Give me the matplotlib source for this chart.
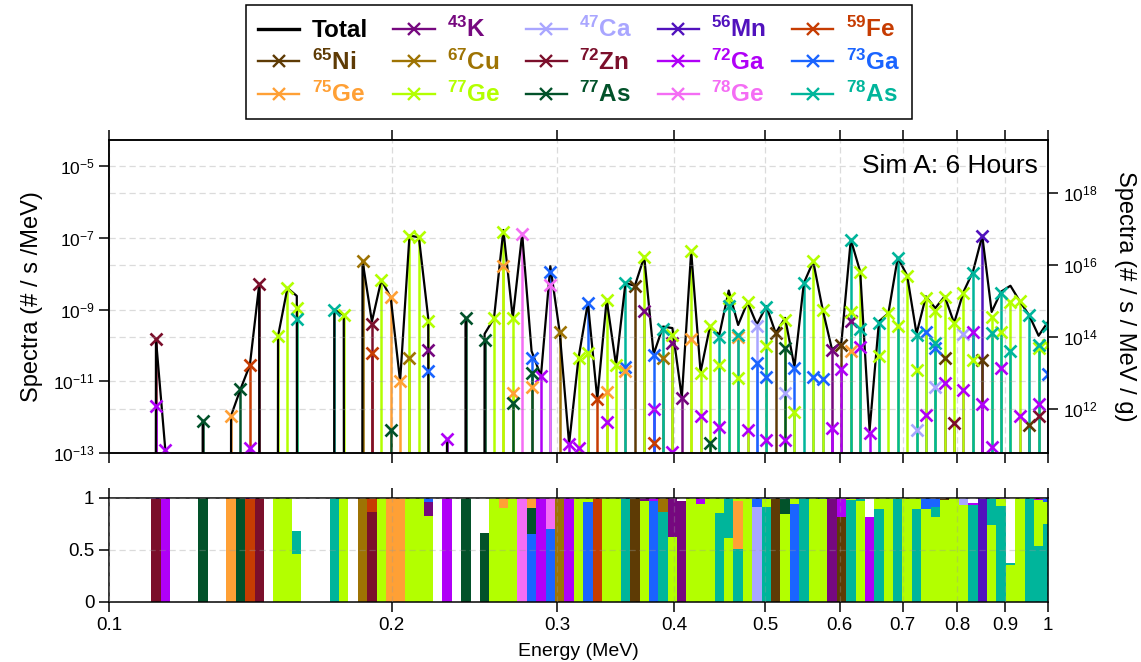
import numpy as np
import matplotlib
matplotlib.use("Agg")
import matplotlib.pyplot as plt
from matplotlib.lines import Line2D
from matplotlib.ticker import FixedLocator, FixedFormatter, NullLocator, LogFormatterSciNotation

plt.rcParams['font.family'] = 'Liberation Sans'
plt.rcParams['mathtext.fontset'] = 'custom'
plt.rcParams['mathtext.rm'] = 'Liberation Sans'
plt.rcParams['mathtext.it'] = 'Liberation Sans:italic'
plt.rcParams['mathtext.bf'] = 'Liberation Sans:bold'
plt.rcParams['axes.linewidth'] = 1.1

# ---------------- data ----------------
# spectrum histogram: 101 log-spaced bin centres from 0.1 to 1 MeV (bin index k)
n_bins = 101
energy = np.logspace(-1, 0, n_bins)

bins_43K = [34, 57, 60, 61, 77, 79]
vals_43K = [7.6e-11, 8.9e-10, 1.15e-10, 3.4e-12, 7.6e-11, 4.7e-10]

bins_47Ca = [69, 72, 86, 88, 91]
vals_47Ca = [3.5e-10, 4.7e-12, 4.4e-13, 6.8e-12, 2.1e-10]

bins_56Mn = [93]
vals_56Mn = [1.15e-7]

bins_59Fe = [15, 28, 52, 58]
vals_59Fe = [2.8e-11, 6.3e-11, 3.2e-12, 1.9e-13]

bins_65Ni = [56, 71, 78, 89, 93, 98]
vals_65Ni = [4.6e-9, 2.2e-10, 1.0e-10, 4.4e-11, 4.0e-11, 6.0e-13]

bins_67Cu = [27, 32, 48, 59]
vals_67Cu = [2.3e-8, 4.6e-11, 2.3e-10, 4.6e-11]

bins_72Zn = [5, 16, 28, 90, 99]
vals_72Zn = [1.5e-10, 5.1e-9, 4.0e-10, 6.8e-13, 1.1e-12]

bins_72Ga = [5, 6, 15, 36, 46, 49, 50, 53, 58, 60, 63, 65, 68, 70, 72, 77, 78,
             80, 81, 87, 89, 91, 92, 93, 94, 95, 97, 99]
vals_72Ga = [2.0e-12, 1.2e-13, 1.4e-13, 2.4e-13, 1.4e-11, 1.8e-13, 1.35e-13, 7.5e-13,
             1.7e-12, 1.1e-13, 1.07e-12, 5.2e-13, 4.4e-13, 2.3e-13, 2.3e-13, 5.1e-13,
             2.2e-11, 8.9e-11, 3.5e-13, 1.15e-12, 8.9e-12, 5.7e-12, 2.4e-10, 2.3e-12,
             1.5e-13, 2.4e-11, 1.07e-12, 2.4e-12]

bins_73Ga = [34, 45, 47, 51, 55, 58, 69, 70, 73, 75, 76, 87, 88, 100]
vals_73Ga = [2.0e-11, 4.6e-11, 1.15e-8, 1.5e-9, 2.5e-11, 5.5e-11, 3.2e-11, 1.3e-11,
             2.4e-11, 1.35e-11, 1.15e-11, 2.4e-10, 8.3e-11, 1.6e-11]

bins_75Ge = [13, 30, 31, 42, 43, 45, 53, 55, 62, 67, 79]
vals_75Ge = [1.1e-12, 2.2e-9, 1.0e-11, 1.6e-8, 4.7e-12, 7.0e-12, 4.9e-12, 2.0e-11,
             1.5e-10, 1.7e-10, 7.2e-11]

bins_77Ge = [18, 19, 20, 25, 29, 32, 33, 34, 41, 42, 43, 50, 51, 53, 54, 57, 60, 62,
             63, 64, 65, 66, 67, 68, 70, 72, 73, 75, 76, 79, 80, 82, 83, 84, 85, 86,
             87, 88, 89, 90, 91, 92, 94, 95, 96, 97, 99, 100]
vals_77Ge = [1.8e-10, 4.0e-9, 1.1e-9, 7.0e-10, 6.7e-9, 1.15e-7, 1.05e-7, 4.7e-10,
             5.7e-10, 1.5e-7, 5.7e-10, 4.4e-11, 6.0e-11, 1.9e-9, 2.8e-11, 2.9e-8,
             1.9e-10, 4.2e-8, 1.7e-11, 3.4e-10, 2.8e-11, 2.1e-9, 1.2e-11, 1.6e-9,
             9.8e-11, 5.0e-10, 1.4e-12, 2.2e-8, 1.0e-9, 8.3e-10, 1.1e-8, 5.1e-11,
             7.9e-10, 3.4e-10, 8.9e-9, 2.1e-11, 2.1e-9, 8.9e-10, 2.3e-9, 4.2e-10,
             2.9e-9, 4.0e-11, 6.4e-10, 2.3e-10, 1.65e-9, 1.7e-9, 8.3e-11, 1.0e-10]

bins_77As = [10, 14, 30, 38, 40, 43, 45, 64, 72]
vals_77As = [8.0e-13, 6.0e-12, 4.4e-13, 5.7e-10, 1.4e-10, 2.5e-12, 1.7e-11, 1.9e-13, 8.3e-11]

bins_78Ge = [44, 47]
vals_78Ge = [1.3e-7, 4.9e-9]

bins_78As = [20, 24, 55, 59, 65, 66, 67, 70, 74, 79, 80, 82, 84, 86, 88, 92, 94, 95,
             96, 98, 99, 100]
vals_78As = [5.4e-10, 1.0e-9, 5.5e-9, 2.9e-10, 1.7e-10, 1.3e-9, 1.9e-10, 1.15e-9,
             5.5e-9, 8.9e-8, 2.9e-10, 4.2e-10, 2.8e-8, 1.9e-10, 1.15e-10, 1.05e-8,
             2.2e-10, 2.9e-9, 7.0e-11, 6.9e-10, 1.0e-10, 3.4e-10]

# contributions of isotopes not listed in the legend (white gaps in the lower panel)
bins_other = [20, 40, 61, 81, 92, 96]
vals_other = [7.6e-10, 7.0e-11, 1.0e-13, 8.0e-14, 5.0e-10, 2.9e-9]

isotopes = [
    ("43", "K", "#76087f", bins_43K, vals_43K),
    ("47", "Ca", "#a9a6ff", bins_47Ca, vals_47Ca),
    ("56", "Mn", "#5112bd", bins_56Mn, vals_56Mn),
    ("59", "Fe", "#c63c02", bins_59Fe, vals_59Fe),
    ("65", "Ni", "#5e3b05", bins_65Ni, vals_65Ni),
    ("67", "Cu", "#9e7303", bins_67Cu, vals_67Cu),
    ("72", "Zn", "#7b0f2b", bins_72Zn, vals_72Zn),
    ("72", "Ga", "#b000f7", bins_72Ga, vals_72Ga),
    ("73", "Ga", "#1a64ff", bins_73Ga, vals_73Ga),
    ("75", "Ge", "#ffa035", bins_75Ge, vals_75Ge),
    ("77", "Ge", "#b3ff00", bins_77Ge, vals_77Ge),
    ("77", "As", "#02522a", bins_77As, vals_77As),
    ("78", "Ge", "#f46df4", bins_78Ge, vals_78Ge),
    ("78", "As", "#00b59b", bins_78As, vals_78As),
]

sim_label = "Sim A: 6 Hours"
mass_factor = 10 ** 23.76     # per-gram conversion for the right axis

# ---------------- derived ----------------
vals_matrix = np.zeros((len(isotopes), n_bins))
for i, (_, _, _, b, v) in enumerate(isotopes):
    vals_matrix[i, b] += v
total = vals_matrix.sum(axis=0)
total[bins_other] += vals_other

# ---------------- figure ----------------
W, H = 1141, 662
fig = plt.figure(figsize=(W / 100, H / 100), dpi=100)
ax = fig.add_axes([109 / W, 1 - 453 / H, 939 / W, 313 / H])
ax2 = fig.add_axes([109 / W, 1 - 602 / H, 939 / W, 104 / H])

ylo, yhi = 1e-13, 10 ** -4.27
grid_kw = dict(color="#9a9a9a", alpha=0.35, ls=(0, (5, 3)), lw=0.9)

ax.set_xscale("log")
ax.set_yscale("log")
ax.set_xlim(0.1, 1.0)
ax.set_ylim(ylo, yhi)

for (_, _, c, b, v) in isotopes:
    ax.vlines(energy[b], 1e-15, v, colors=c, lw=1.8, zorder=2)
for (_, _, c, b, v) in isotopes:
    ax.plot(energy[b], v, ls="none", marker="x", ms=9, mew=1.9, color=c, zorder=4)

tot_plot = np.where(total > 0, total, 1e-300)
ax.plot(energy, tot_plot, color="black", lw=1.6, zorder=3)

xt = [0.1, 0.2, 0.3, 0.4, 0.5, 0.6, 0.7, 0.8, 0.9, 1.0]
xtl = ["0.1", "0.2", "0.3", "0.4", "0.5", "0.6", "0.7", "0.8", "0.9", "1"]
for a in (ax, ax2):
    a.xaxis.set_major_locator(FixedLocator(xt))
    a.xaxis.set_minor_locator(NullLocator())
    a.tick_params(axis="x", which="major", top=True, bottom=True, direction="out",
                  length=7, width=1.1)
    a.grid(True, axis="x", **grid_kw)
ax.tick_params(axis="x", labelbottom=False)
ax2.xaxis.set_major_formatter(FixedFormatter(xtl))
ax2.tick_params(axis="x", labelsize=13.5, pad=4)

ax.yaxis.set_major_locator(FixedLocator([1e-13, 1e-11, 1e-9, 1e-7, 1e-5]))
ax.yaxis.set_minor_locator(NullLocator())
ax.yaxis.set_major_formatter(LogFormatterSciNotation())
ax.tick_params(axis="y", direction="out", length=7, width=1.1, labelsize=12.5)
ax.grid(True, axis="y", **grid_kw)
ax.set_axisbelow(False)
ax.set_ylabel("Spectra (# / s /MeV)", fontsize=17, labelpad=7)
ax.text(0.989, 0.955, sim_label, transform=ax.transAxes, ha="right", va="top",
        fontsize=19, zorder=6)

axr = ax.twinx()
axr.set_yscale("log")
axr.set_ylim(ylo * mass_factor, yhi * mass_factor)
axr.yaxis.set_major_locator(FixedLocator([1e12, 1e14, 1e16, 1e18]))
axr.yaxis.set_minor_locator(NullLocator())
axr.yaxis.set_major_formatter(LogFormatterSciNotation())
axr.tick_params(axis="y", direction="out", length=7, width=1.1, labelsize=12.5)
axr.grid(True, axis="y", **grid_kw)
axr.set_ylabel("Spectra (# / s / MeV / g)", fontsize=17, rotation=270, labelpad=28)

# ---------------- lower panel: fractional contribution ----------------
step = np.log10(energy[1] / energy[0])
left_edges = energy * 10 ** (-step / 2)
widths = energy * 10 ** (step / 2) - left_edges
bottoms = np.zeros_like(vals_matrix)
fracs = np.zeros_like(vals_matrix)
for k in range(n_bins):
    if total[k] <= 0:
        continue
    order = np.argsort(-vals_matrix[:, k])
    cum = 0.0
    for i in order:
        f = vals_matrix[i, k] / total[k]
        fracs[i, k] = f
        bottoms[i, k] = cum
        cum += f
for i, (_, _, c, b, v) in enumerate(isotopes):
    m = fracs[i] > 0
    ax2.bar(left_edges[m], fracs[i][m], width=widths[m], bottom=bottoms[i][m],
            align="edge", color=c, lw=0, zorder=1)
ax2.set_xscale("log")
ax2.set_xlim(0.1, 1.0)
ax2.xaxis.set_major_locator(FixedLocator(xt))
ax2.xaxis.set_minor_locator(NullLocator())
ax2.xaxis.set_major_formatter(FixedFormatter(xtl))
ax2.set_ylim(0, 1)
ax2.set_yticks([0, 0.5, 1])
ax2.set_yticklabels(["0", "0.5", "1"])
ax2.tick_params(axis="y", direction="out", length=7, width=1.1, labelsize=13.5)
ax2.grid(True, axis="y", **grid_kw)
ax2.set_axisbelow(False)
ax2.set_xlabel("Energy (MeV)", fontsize=14, labelpad=6)

# ---------------- legend (filled row by row) ----------------
handles = [Line2D([], [], color="black", lw=2.4)]
labels = ["Total"]
colors = ["black"]
for (mass, el, c, b, v) in isotopes:
    handles.append(Line2D([], [], color=c, lw=1.7, marker="x", ms=9, mew=1.7))
    labels.append(r"$^{\mathbf{%s}}$%s" % (mass, el))
    colors.append(c)
ncol, nrow = 5, 3
order = [r * ncol + c for c in range(ncol) for r in range(nrow)]
handles = [handles[i] for i in order]
labels = [labels[i] for i in order]
colors = [colors[i] for i in order]
leg = fig.legend(handles, labels, ncol=ncol, loc="upper center",
                 bbox_to_anchor=(579 / W, 1 - 5 / H), borderaxespad=0,
                 frameon=True, fancybox=False,
                 edgecolor="black", framealpha=1, borderpad=0.5, labelspacing=0.3,
                 handlelength=1.7, handletextpad=0.5, columnspacing=1.05,
                 prop={"weight": "bold", "size": 17.5})
leg.get_frame().set_linewidth(1.1)
for t, c in zip(leg.get_texts(), colors):
    t.set_color(c)

fig.savefig("out.png", dpi=100)
